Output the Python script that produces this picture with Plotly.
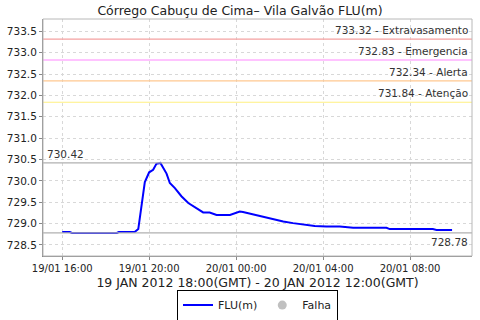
import plotly.graph_objects as go

times = ["2012-01-19 16:00", "2012-01-19 16:21", "2012-01-19 16:27", "2012-01-19 18:31",
         "2012-01-19 18:36", "2012-01-19 19:20", "2012-01-19 19:30", "2012-01-19 19:48",
         "2012-01-19 20:00", "2012-01-19 20:11", "2012-01-19 20:20", "2012-01-19 20:31",
         "2012-01-19 20:48", "2012-01-19 20:57", "2012-01-19 21:11", "2012-01-19 21:29",
         "2012-01-19 21:48", "2012-01-19 22:11", "2012-01-19 22:29", "2012-01-19 22:47",
         "2012-01-19 23:06", "2012-01-19 23:43", "2012-01-19 23:55", "2012-01-20 00:10",
         "2012-01-20 00:19", "2012-01-20 00:47", "2012-01-20 01:15", "2012-01-20 01:42",
         "2012-01-20 02:10", "2012-01-20 02:37", "2012-01-20 03:05", "2012-01-20 03:37",
         "2012-01-20 04:09", "2012-01-20 04:46", "2012-01-20 05:23", "2012-01-20 06:55",
         "2012-01-20 07:04", "2012-01-20 09:03", "2012-01-20 09:13", "2012-01-20 09:56"]
flu = [728.80, 728.80, 728.78, 728.78,
       728.80, 728.80, 728.87, 729.97,
       730.20, 730.26, 730.40, 730.42,
       730.17, 729.95, 729.83, 729.64,
       729.48, 729.35, 729.26, 729.26,
       729.20, 729.20, 729.24, 729.28,
       729.27, 729.21, 729.16, 729.10,
       729.05, 729.01, 728.97, 728.94,
       728.93, 728.93, 728.90, 728.90,
       728.87, 728.87, 728.85, 728.85]

thresholds = [733.32, 732.83, 732.34, 731.84]
threshold_names = ["Extravasamento", "Emergencia", "Alerta", "Atenção"]
threshold_colors = ["#f4a0a0", "#ff88ff", "#ffc890", "#fff080"]
max_val = 730.42
min_val = 728.78

fig = go.Figure()
fig.add_trace(go.Scatter(x=times, y=flu, mode="lines", name="FLU(m)",
                         line=dict(color="#0000ff", width=2)))
fig.add_trace(go.Scatter(x=[None], y=[None], mode="markers", name="Falha",
                         marker=dict(color="#c0c0c0", size=9)))

for v, n, c in zip(thresholds, threshold_names, threshold_colors):
    fig.add_shape(type="line", xref="paper", x0=0, x1=1, y0=v, y1=v,
                  line=dict(color=c, width=1.2))
    fig.add_annotation(xref="paper", x=0.995, y=v, text=f"{v:.2f} - {n}",
                       showarrow=False, xanchor="right", yanchor="bottom",
                       yshift=1, font=dict(size=10.5, color="#333333"))

fig.add_shape(type="line", xref="paper", x0=0, x1=1, y0=max_val, y1=max_val,
              line=dict(color="#b0b0b0", width=1.2))
fig.add_annotation(xref="paper", x=0.005, y=max_val, text=f"{max_val:.2f}",
                   showarrow=False, xanchor="left", yanchor="bottom", yshift=1,
                   font=dict(size=10.5, color="#333333"))
fig.add_shape(type="line", xref="paper", x0=0, x1=1, y0=min_val, y1=min_val,
              line=dict(color="#b0b0b0", width=1.2))
fig.add_annotation(xref="paper", x=0.995, y=min_val, text=f"{min_val:.2f}",
                   showarrow=False, xanchor="right", yanchor="top", yshift=-1,
                   font=dict(size=10.5, color="#333333"))

fig.update_layout(
    width=480, height=320,
    margin=dict(l=43, r=8, t=19, b=64, autoexpand=False),
    paper_bgcolor="white", plot_bgcolor="white",
    font=dict(family="DejaVu Sans", size=11, color="#222222"),
    title=dict(text="Córrego Cabuçu de Cima– Vila Galvão FLU(m)", x=0.5, xanchor="center",
               yref="container", y=0.966, yanchor="middle",
               font=dict(size=12.5, color="#222222")),
    xaxis=dict(
        range=["2012-01-19 15:07", "2012-01-20 10:51"],
        tickformat="%d/%m %H:%M", dtick=4 * 3600 * 1000, tick0="2012-01-19 16:00",
        showgrid=True, gridcolor="#d8d8d8", griddash="dot",
        showline=True, linecolor="#888888", mirror=False,
        ticks="outside", ticklen=3, tickcolor="#888888",
        tickfont=dict(size=10),
        title=dict(text="19 JAN 2012 18:00(GMT) - 20 JAN 2012 12:00(GMT)",
                   font=dict(size=12.5), standoff=5),
        zeroline=False,
    ),
    yaxis=dict(
        range=[728.24, 733.79], dtick=0.5, tickformat=".1f",
        showgrid=True, gridcolor="#d8d8d8", griddash="dot",
        showline=True, linecolor="#888888",
        ticks="outside", ticklen=3, tickcolor="#888888",
        tickfont=dict(size=10.5), zeroline=False,
    ),
    legend=dict(orientation="h", x=0.5, xanchor="center",
                yref="container", y=0.095, yanchor="top",
                bordercolor="#000000", borderwidth=1, font=dict(size=11),
                itemwidth=30, tracegroupgap=0, valign="middle"),
    showlegend=True,
)
fig.add_shape(type="rect", xref="paper", yref="paper", x0=0, x1=1, y0=0, y1=1,
              line=dict(color="#b8b8b8", width=1))

fig.write_html("out.html")
